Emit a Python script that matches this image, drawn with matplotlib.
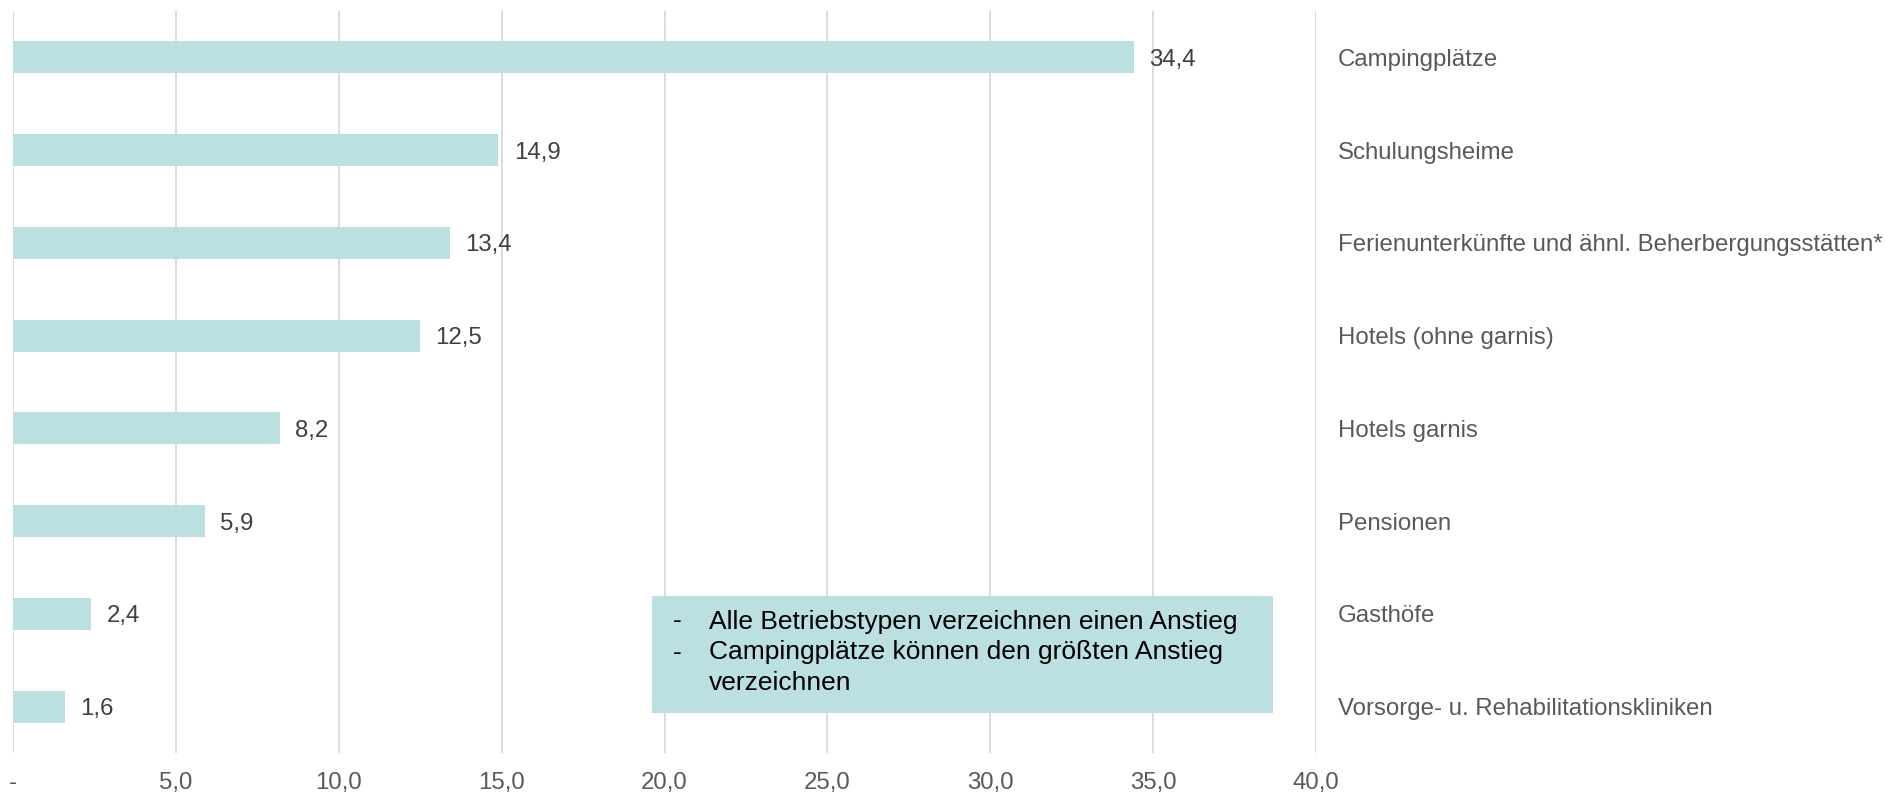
import matplotlib
matplotlib.use("Agg")
import matplotlib.pyplot as plt
from matplotlib.patches import Rectangle

categories = [
    "Campingplätze",
    "Schulungsheime",
    "Ferienunterkünfte und ähnl. Beherbergungsstätten*",
    "Hotels (ohne garnis)",
    "Hotels garnis",
    "Pensionen",
    "Gasthöfe",
    "Vorsorge- u. Rehabilitationskliniken",
]
values = [34.4, 14.9, 13.4, 12.5, 8.2, 5.9, 2.4, 1.6]
xticks = [0, 5, 10, 15, 20, 25, 30, 35, 40]
xtick_labels = ["-", "5,0", "10,0", "15,0", "20,0", "25,0", "30,0", "35,0", "40,0"]
note_lines = [
    ("-", "Alle Betriebstypen verzeichnen einen Anstieg"),
    ("-", "Campingplätze können den größten Anstieg"),
    ("", "verzeichnen"),
]

plt.rcParams['font.family'] = ['Liberation Sans', 'DejaVu Sans']

BAR = "#BCDFE2"
GRID = "#D9D9D9"
TXT = "#595959"

fig = plt.figure(figsize=(18.87, 7.96), dpi=100)
ax = fig.add_axes([13/1887, 43/796, (1316-13)/1887, (753-11)/796])

ypos = list(range(len(categories)))
ax.barh(ypos, values, height=0.345, color=BAR, zorder=2)
for y, v in zip(ypos, values):
    ax.annotate(f"{v:.1f}".replace(".", ","), xy=(v, y), xytext=(11, 0),
                textcoords="offset points", va="center_baseline", ha="left",
                fontsize=17.3, color="#404040", zorder=3)

ax.set_xlim(0, 40)
ax.set_ylim(7.5, -0.5)
ax.set_xticks(xticks)
ax.set_xticklabels(xtick_labels, fontsize=17.3, color=TXT)
ax.set_yticks(ypos)
ax.set_yticklabels(categories, fontsize=17.3, color=TXT)
for lbl in ax.get_yticklabels():
    lbl.set_verticalalignment("center_baseline")
ax.yaxis.tick_right()
ax.tick_params(axis='y', length=0, pad=15.5)
ax.tick_params(axis='x', length=0, pad=14)
ax.grid(axis='x', color=GRID, linewidth=1.3, zorder=0)
ax.grid(axis='y', visible=False)
for s in ax.spines.values():
    s.set_visible(False)

# note box
fig.patches.append(Rectangle((652/1887, 1-713/796), (1273-652)/1887, (713-596)/796,
                             transform=fig.transFigure, facecolor=BAR, edgecolor="none", zorder=5))
line_px = [619, 650, 681]
for (dash, txt), py in zip(note_lines, line_px):
    if dash:
        fig.text(673/1887, 1-py/796, dash, fontsize=19, color="black",
                 va="center_baseline", ha="left", zorder=6)
    fig.text(709/1887, 1-py/796, txt, fontsize=19, color="black",
             va="center_baseline", ha="left", zorder=6)

fig.savefig("out.png", dpi=100)
